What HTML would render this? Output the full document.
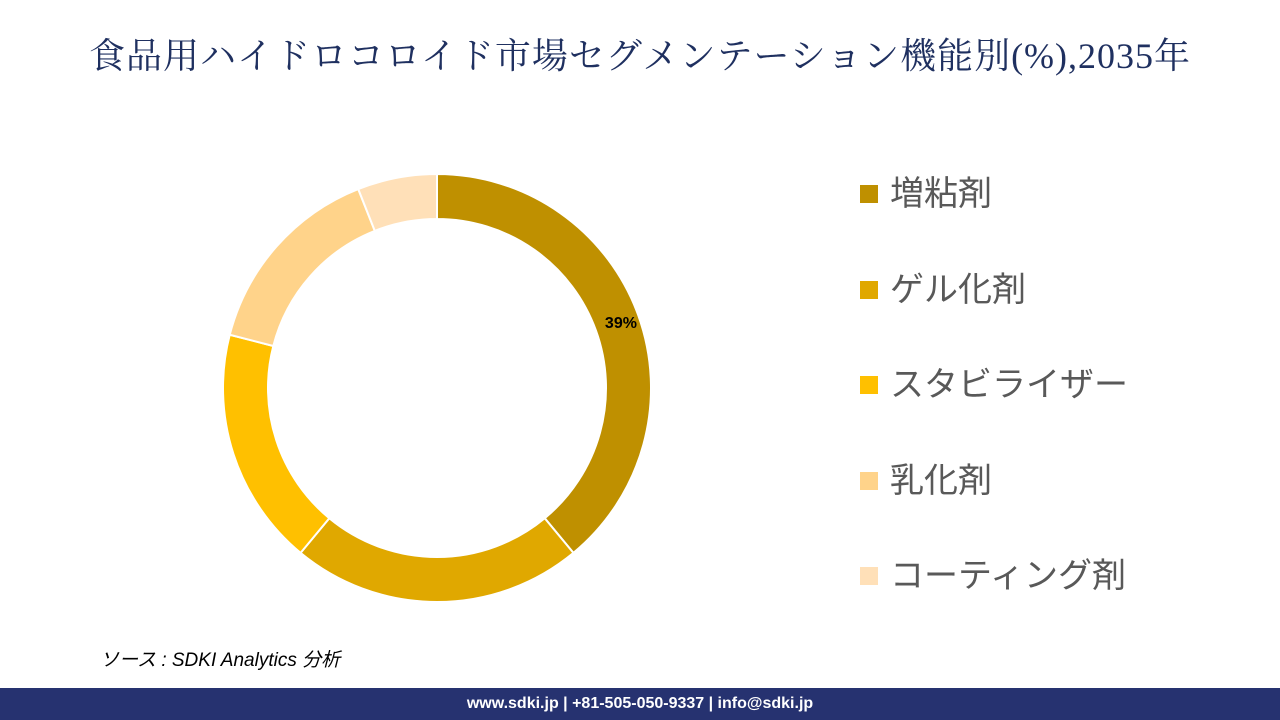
<!DOCTYPE html>
<html><head><meta charset="utf-8"><style>
body{margin:0;width:1280px;height:720px;background:#fff;position:relative;overflow:hidden;font-family:"Liberation Sans","Noto Sans CJK JP",sans-serif}
#title{position:absolute;left:0;top:28px;width:1280px;text-align:center;font-family:"Liberation Serif","Noto Serif CJK SC",serif;font-size:36px;color:#1F3060;letter-spacing:1px}
.leg{position:absolute;left:860px;font-size:34px;color:#595959;height:40px;line-height:40px}
.leg span.sw{position:absolute;left:0;top:11px;width:18px;height:18px}
.leg span.t{position:absolute;left:30px;white-space:nowrap}
#src{position:absolute;left:100px;top:645px;font-size:19px;font-style:italic;color:#000}
#foot{position:absolute;left:0;top:688px;width:1280px;height:32px;background:#263270;color:#fff;font-weight:bold;font-size:16px;text-align:center;line-height:32px}
</style></head><body>
<div id="title">食品用ハイドロコロイド市場セグメンテーション機能別(%),2035年</div>
<svg id="chart" width="1280" height="720" style="position:absolute;left:0;top:0"></svg>
<div id="legend"></div>
<div id="src">ソース : SDKI Analytics 分析</div>
<div id="foot">www.sdki.jp | +81-505-050-9337 | info@sdki.jp</div>
<script>
const categories=["増粘剤","ゲル化剤","スタビライザー","乳化剤","コーティング剤"];
const values=[39,22,18,15,6];
const labels=["39%","","","",""];
const colors=["#BF9000","#E0A800","#FFC000","#FFD38A","#FFE0B8"];
const cx=437,cy=388,R=214,r=169;
const svg=document.getElementById('chart');
const NS="http://www.w3.org/2000/svg";
const total=values.reduce((a,b)=>a+b,0);
function pt(a,rad){return [cx+rad*Math.sin(a),cy-rad*Math.cos(a)];}
let acc=0;
values.forEach((v,i)=>{
  const a0=acc/total*2*Math.PI;acc+=v;const a1=acc/total*2*Math.PI;
  const lg=(a1-a0)>Math.PI?1:0;
  const p0=pt(a0,R),p1=pt(a1,R),q1=pt(a1,r),q0=pt(a0,r);
  const p=document.createElementNS(NS,'path');
  p.setAttribute('d',`M${p0} A${R},${R} 0 ${lg} 1 ${p1} L${q1} A${r},${r} 0 ${lg} 0 ${q0}Z`);
  p.setAttribute('fill',colors[i]);p.setAttribute('stroke','#fff');p.setAttribute('stroke-width','2');
  
  
  svg.appendChild(p);
  if(labels[i]){
    const m=(a0+a1)/2,lp=pt(m,(R+r)/2+4);
    const t=document.createElementNS(NS,'text');
    t.setAttribute('x',lp[0]);t.setAttribute('y',lp[1]+6);t.setAttribute('text-anchor','middle');
    t.setAttribute('font-size','16');t.setAttribute('font-weight','bold');t.setAttribute('fill','#000');
    
    
    t.textContent=labels[i];svg.appendChild(t);
  }
});
const leg=document.getElementById('legend');
categories.forEach((c,i)=>{
  const d=document.createElement('div');d.className='leg';d.style.top=(174+i*95.5)+'px';
  
  
  d.innerHTML=`<span class="sw" style="background:${colors[i]}"></span><span class="t">${c}</span>`;
  leg.appendChild(d);
});
</script>
</body></html>
